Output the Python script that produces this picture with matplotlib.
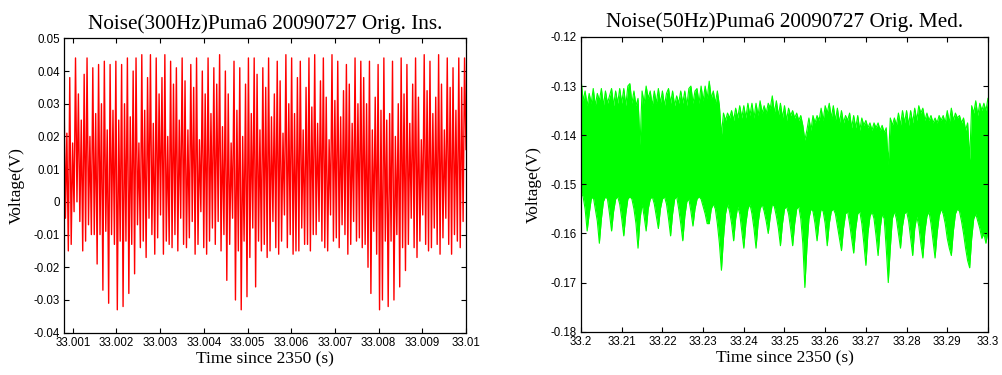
import numpy as np
import matplotlib
matplotlib.use("Agg")
import matplotlib.pyplot as plt

# ---- left panel: 300Hz noise, sampled signal (mV) ----
t_left_start = 33.0008
t_left_end = 33.01
sig_left_mv = [
    34, -5, 21, -15, 38, -13, 18, -3, 44, 0, 33, -6, 25, -15, 39, -12, 44, -7, 20, -10,
    41, -10, 27, -19, 42, -10, 30, -27, 43, -9, 22, -31, 42, -10, 28, -13, 43, -33, 25, -12,
    42, -32, 30, -12, 44, -28, 26, -13, 40, -22, 44, -7, 18, -14, 45, -12, 28, -17, 38, -5,
    45, -10, 24, -16, 44, -11, 33, -4, 38, -16, 45, -12, 20, -13, 43, -14, 36, -10, 41, -15,
    25, -5, 44, -13, 37, -14, 22, -11, 42, -6, 35, -16, 44, -13, 19, -3, 40, -14, 33, -16,
    44, -12, 27, -8, 41, -13, 36, -6, 45, -15, 23, -10, 40, -24, 33, -13, 18, -5, 43, -30,
    28, -15, 41, -33, 20, -12, 36, -29, 44, -17, 27, -8, 44, -26, 39, -12, 22, -15, 41, -13,
    35, -17, 44, -15, 26, -6, 33, -14, 43, -16, 37, -12, 21, -4, 45, -14, 30, -10, 44, -16,
    27, -15, 38, -15, 43, -8, 22, -13, 35, -13, 44, -15, 29, -10, 45, -10, 24, -6, 37, -12,
    44, -14, 32, -15, 19, -4, 45, -12, 31, -11, 43, -14, 26, -7, 34, -10, 42, -16, 36, -13,
    24, -6, 44, -12, 30, -11, 43, -14, 38, -13, 30, -20, 43, -28, 22, -9, 32, -16, 42, -33,
    28, -30, 44, -12, 25, -32, 27, -12, 43, -30, 20, -10, 30, -26, 44, -14, 33, -21, 42, -13,
    24, -5, 36, -14, 44, -17, 32, -12, 19, -4, 45, -13, 34, -15, 43, -14, 27, -8, 32, -13,
    45, -16, 36, -11, 22, -5, 44, -13, 35, -16, 41, -10, 28, -12, 44, -14, 35, -6, 44, 16,
]
xticks_left = [33.001, 33.002, 33.003, 33.004, 33.005, 33.006, 33.007, 33.008, 33.009, 33.01]
yticks_left = [-0.04, -0.03, -0.02, -0.01, 0, 0.01, 0.02, 0.03, 0.04, 0.05]

# ---- right panel: 50Hz noise, envelope of the band (mV), 0.5 ms steps ----
t0_right = 33.2
dt_right = 0.0005
upper_mv = [
    -128.5, -133, -131, -134, -131.5, -133.5, -130.5, -134, -131.5, -133,
    -130.5, -134, -131, -133.5, -132, -130.5, -134, -131, -133.5, -130.5,
    -133.5, -130.5, -134, -130, -129.5, -133.5, -131, -134, -132.5, -142,
    -131, -133.5, -130, -132.5, -131, -134, -131, -133.5, -130.5, -133.5,
    -131, -134, -131.5, -130.5, -133.5, -131, -134, -132, -133.5, -131,
    -133.5, -131, -134, -130.5, -130, -133.5, -131, -130.5, -133.5, -130,
    -133, -130, -132.5, -129, -132.5, -131, -133.5, -131, -134, -140,
    -135.5, -137, -135.5, -136.5, -135, -137, -134.5, -136.5, -134, -136.5,
    -134, -136.5, -133.5, -136, -133.5, -136.5, -133.5, -136, -133, -135.5,
    -134, -135.5, -133.5, -134.5, -132, -135.5, -133, -136, -133.5, -136.5,
    -134, -137, -134.5, -136, -135, -136.5, -135.5, -137, -136, -138,
    -141, -139, -136.5, -139, -136, -137.5, -136, -137, -134.5, -137,
    -134, -135.5, -133.5, -136.5, -134, -137, -134.5, -137.5, -135, -137.5,
    -136, -137, -135.5, -138.5, -136, -138.5, -136, -139, -136.5, -138,
    -137, -138.5, -137.5, -139, -137.5, -138.5, -137.5, -139, -138, -139.5,
    -138.5, -146, -136.5, -138, -136.5, -138, -135.5, -138, -135, -137.5,
    -135, -138, -135, -137.5, -134.5, -137, -134, -135.5, -134.5, -137,
    -135.5, -137, -136, -137.5, -136.5, -137.5, -136, -137, -136, -137.5,
    -135, -137.5, -134.5, -137, -135.5, -136.5, -136, -137.5, -136.5, -139,
    -137.5, -145, -134, -135.5, -133, -136, -133.5, -135, -133.5, -135,
    -132.5,
]
lower_mv = [
    -151.5, -152.5, -155, -159.5, -156, -153, -152.5, -155, -157.5, -162,
    -157, -153.5, -152.5, -153, -156, -159.5, -155.5, -153, -152.5, -154,
    -157, -160.5, -156, -153, -152.5, -153, -155, -158, -163, -157,
    -154, -156.5, -159.5, -155, -153, -152.5, -154, -156.5, -159, -155,
    -153, -152.5, -154, -157, -160.5, -156, -153, -152.5, -155, -158,
    -161.5, -156.5, -153.5, -153, -155.5, -158.5, -155, -153, -152.5, -153,
    -154.5, -156, -158, -158, -155, -154, -155, -158, -162, -167.5,
    -161, -156, -154, -155.5, -158, -161.5, -157, -154.5, -156, -159.5,
    -163, -158, -155, -154, -156, -159, -163, -158, -155, -154,
    -155.5, -157.5, -160, -156.5, -154, -154.5, -156.5, -159, -162.5, -158,
    -155, -154.5, -156, -159, -162.5, -158, -155, -154.5, -157, -162,
    -171, -163, -157, -155, -155.5, -158, -161.5, -157.5, -155, -155.5,
    -158, -162.5, -158, -155.5, -155, -156, -158.5, -161, -163.5, -159,
    -156, -155.5, -158, -161, -164, -159, -156, -155.5, -158, -162,
    -166.5, -160, -156.5, -155.5, -157, -160.5, -164.5, -159, -156, -157,
    -163, -170, -163, -157, -155.5, -157, -160, -163, -158.5, -156,
    -155.5, -157.5, -161, -164.5, -159, -156.5, -158.5, -162, -165, -159.5,
    -156.5, -155.5, -158, -161.5, -165, -160, -156.5, -155, -156, -158,
    -161, -163, -164.5, -159.5, -156, -155, -155.5, -157.5, -160, -163,
    -165.5, -167, -161, -157, -156, -157.5, -159, -161, -160, -162,
    -159.5,
]
xticks_right = [33.2, 33.21, 33.22, 33.23, 33.24, 33.25, 33.26, 33.27, 33.28, 33.29, 33.3]
yticks_right = [-0.18, -0.17, -0.16, -0.15, -0.14, -0.13, -0.12]

serif = ["Liberation Serif", "DejaVu Serif"]
sans = ["Liberation Sans", "DejaVu Sans"]


def style_axes(ax, xticks, yticks, title):
    ax.set_xticks(xticks)
    ax.set_yticks(yticks)
    ax.set_xticklabels(["%g" % v for v in xticks], family=sans, fontsize=8.3)
    ax.set_yticklabels(["%g" % v for v in yticks], family=sans, fontsize=8.3)
    ax.tick_params(direction="in", length=3.5, width=0.8, top=True, right=True, pad=3)
    for sp in ax.spines.values():
        sp.set_linewidth(0.9)
    ax.set_title(title, family=serif, fontsize=15.3, pad=7)
    ax.set_xlabel("Time since 2350 (s)", family=serif, fontsize=12.5, labelpad=2)
    ax.set_ylabel("Voltage(V)", family=serif, fontsize=12.5, labelpad=6)


fig = plt.figure(figsize=(10.03, 3.75), dpi=100)

# left
ax1 = fig.add_axes([0.0638, 0.1128, 0.4008, 0.785])
yl = np.array(sig_left_mv) / 1000.0
tl = np.linspace(t_left_start, t_left_end, len(yl))
ax1.plot(tl, yl, color="#ff0000", lw=1.0)
ax1.set_xlim(33.0008, 33.01)
ax1.set_ylim(-0.04, 0.05)
style_axes(ax1, xticks_left, yticks_left, "Noise(300Hz)Puma6 20090727 Orig. Ins.")

# right
ax2 = fig.add_axes([0.5793, 0.1155, 0.4057, 0.786])
up = np.array(upper_mv) / 1000.0
lo = np.array(lower_mv) / 1000.0
tr = t0_right + np.arange(len(up)) * dt_right
ax2.fill_between(tr, lo, up, color="#00ff00", lw=0)
ax2.plot(tr, up, color="#00ff00", lw=0.8)
ax2.plot(tr, lo, color="#00ff00", lw=0.8)
ax2.set_xlim(33.2, 33.3)
ax2.set_ylim(-0.18, -0.12)
style_axes(ax2, xticks_right, yticks_right, "Noise(50Hz)Puma6 20090727 Orig. Med.")

fig.savefig("out.png", dpi=100)
